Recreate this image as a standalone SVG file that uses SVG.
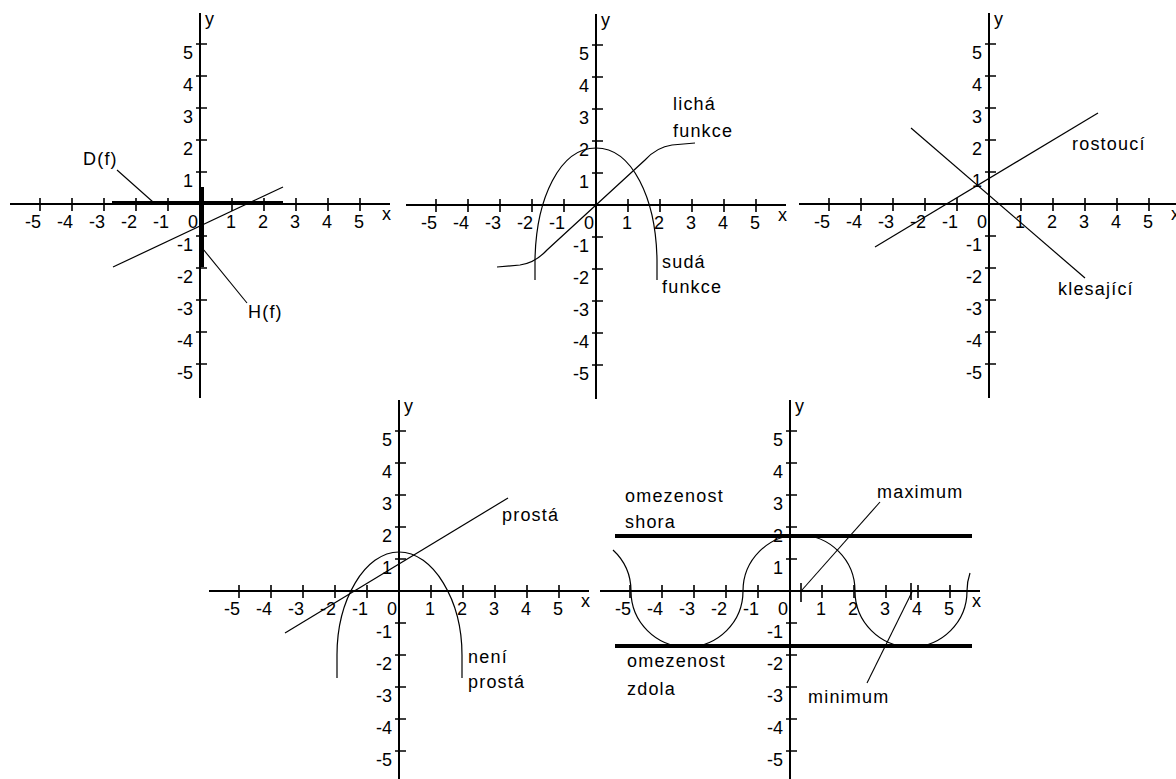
<svg xmlns="http://www.w3.org/2000/svg" xmlns:xlink="http://www.w3.org/1999/xlink" width="1176" height="779" viewBox="0 0 1176 779">
<style>
.ax{stroke:#000;stroke-width:2;fill:none}
.tk{stroke:#000;stroke-width:1.6;fill:none}
.cv{stroke:#000;stroke-width:1.2;fill:none}
.th{stroke:#000;stroke-width:4;fill:none}
.ld{stroke:#000;stroke-width:1.1;fill:none}
text{font-family:"Liberation Sans",Arial,sans-serif;font-size:18px;fill:#000}
.n{text-anchor:end}
.m{text-anchor:middle}
.lb{letter-spacing:1.2px}
</style>
<defs>
<g id="axes">
<path class="ax" d="M-190,0H190M0,-191V194"/>
<path class="tk" d="M-160,-6v13M-128,-6v13M-96,-6v13M-64,-6v13M-32,-6v13M32,-6v13M64,-6v13M96,-6v13M128,-6v13M160,-6v13M-4,-160h11M-4,-128h11M-4,-96h11M-4,-64h11M-4,-32h11M-4,32h11M-4,64h11M-4,96h11M-4,128h11M-4,160h11"/>
<text class="n" x="-159" y="24">-5</text>
<text class="n" x="-127" y="24">-4</text>
<text class="n" x="-95" y="24">-3</text>
<text class="n" x="-63" y="24">-2</text>
<text class="n" x="-31" y="24">-1</text>
<text class="n" x="-2" y="24">0</text>
<text class="m" x="31" y="24">1</text>
<text class="m" x="63" y="24">2</text>
<text class="m" x="95" y="24">3</text>
<text class="m" x="127" y="24">4</text>
<text class="m" x="159" y="24">5</text>
<text class="n" x="-7" y="-145">5</text>
<text class="n" x="-7" y="-113">4</text>
<text class="n" x="-7" y="-81">3</text>
<text class="n" x="-7" y="-49">2</text>
<text class="n" x="-7" y="-17">1</text>
<text class="n" x="-7" y="47">-1</text>
<text class="n" x="-7" y="79">-2</text>
<text class="n" x="-7" y="111">-3</text>
<text class="n" x="-7" y="143">-4</text>
<text class="n" x="-7" y="175">-5</text>
<text x="182" y="16">x</text>
<text x="5" y="-179">y</text>
</g>
</defs>
<rect width="1176" height="779" fill="#fff"/>

<g id="panel-domain">
<use xlink:href="#axes" x="200" y="204"/>
<path class="th" d="M112,203H283M202,187V267"/>
<path class="cv" d="M113,267L283,187"/>
<text class="lb" x="83" y="165">D(f)</text>
<text class="lb" x="248" y="318">H(f)</text>
</g>

<g id="panel-parity">
<use xlink:href="#axes" x="596" y="205"/>
<path class="cv" d="M497,267L520,265Q535,263 547,250L645,160Q657,147 672,145L695,143"/>
<path class="cv" d="M535,280L535,260C536,198 560,148 596,148C632,148 656,198 657,260L657,280"/>
<text class="lb" x="673" y="110">lichá</text>
<text class="lb" x="673" y="137">funkce</text>
<text class="lb" x="662" y="268">sudá</text>
<text class="lb" x="662" y="293">funkce</text>
</g>

<g id="panel-monotony">
<use xlink:href="#axes" x="989" y="204"/>
<path class="cv" d="M875,247L1098,113"/>
<path class="cv" d="M911,128L1085,278"/>
<text class="lb" x="1072" y="150">rostoucí</text>
<text class="lb" x="1058" y="295">klesající</text>
</g>

<g id="panel-injective">
<use xlink:href="#axes" x="399" y="591"/>
<path class="cv" d="M285,633L508,498"/>
<path class="cv" d="M337,678L337,655C337,600 365,552 399,552C433,552 462,600 462,655L462,678"/>
<text class="lb" x="502" y="521">prostá</text>
<text class="lb" x="468" y="663">není</text>
<text class="lb" x="468" y="688">prostá</text>
</g>

<g id="panel-bounded">
<use xlink:href="#axes" x="790" y="591"/>
<path class="th" d="M615,536H972M615,646H972"/>
<path class="cv" d="M613,550A56,56 0 0 1 631,591A56,56 0 0 0 743,591A56,56 0 0 1 855,591A56,56 0 0 0 967,591A56,56 0 0 1 970,573"/>
<path class="tk" d="M801,583V602M911,583V600"/>
<text class="lb" x="625" y="502">omezenost</text>
<text class="lb" x="625" y="528">shora</text>
<text class="lb" x="627" y="667">omezenost</text>
<text class="lb" x="627" y="695">zdola</text>
<text class="lb" x="877" y="498">maximum</text>
<text class="lb" x="808" y="703">minimum</text>
</g>

<g id="connectors">
<path class="ld" d="M117,170L153,202"/>
<path class="ld" d="M203,249L247,303"/>
<path class="ld" d="M880,502L802,590"/>
<path class="ld" d="M867,683L912,592"/>
</g>
</svg>
